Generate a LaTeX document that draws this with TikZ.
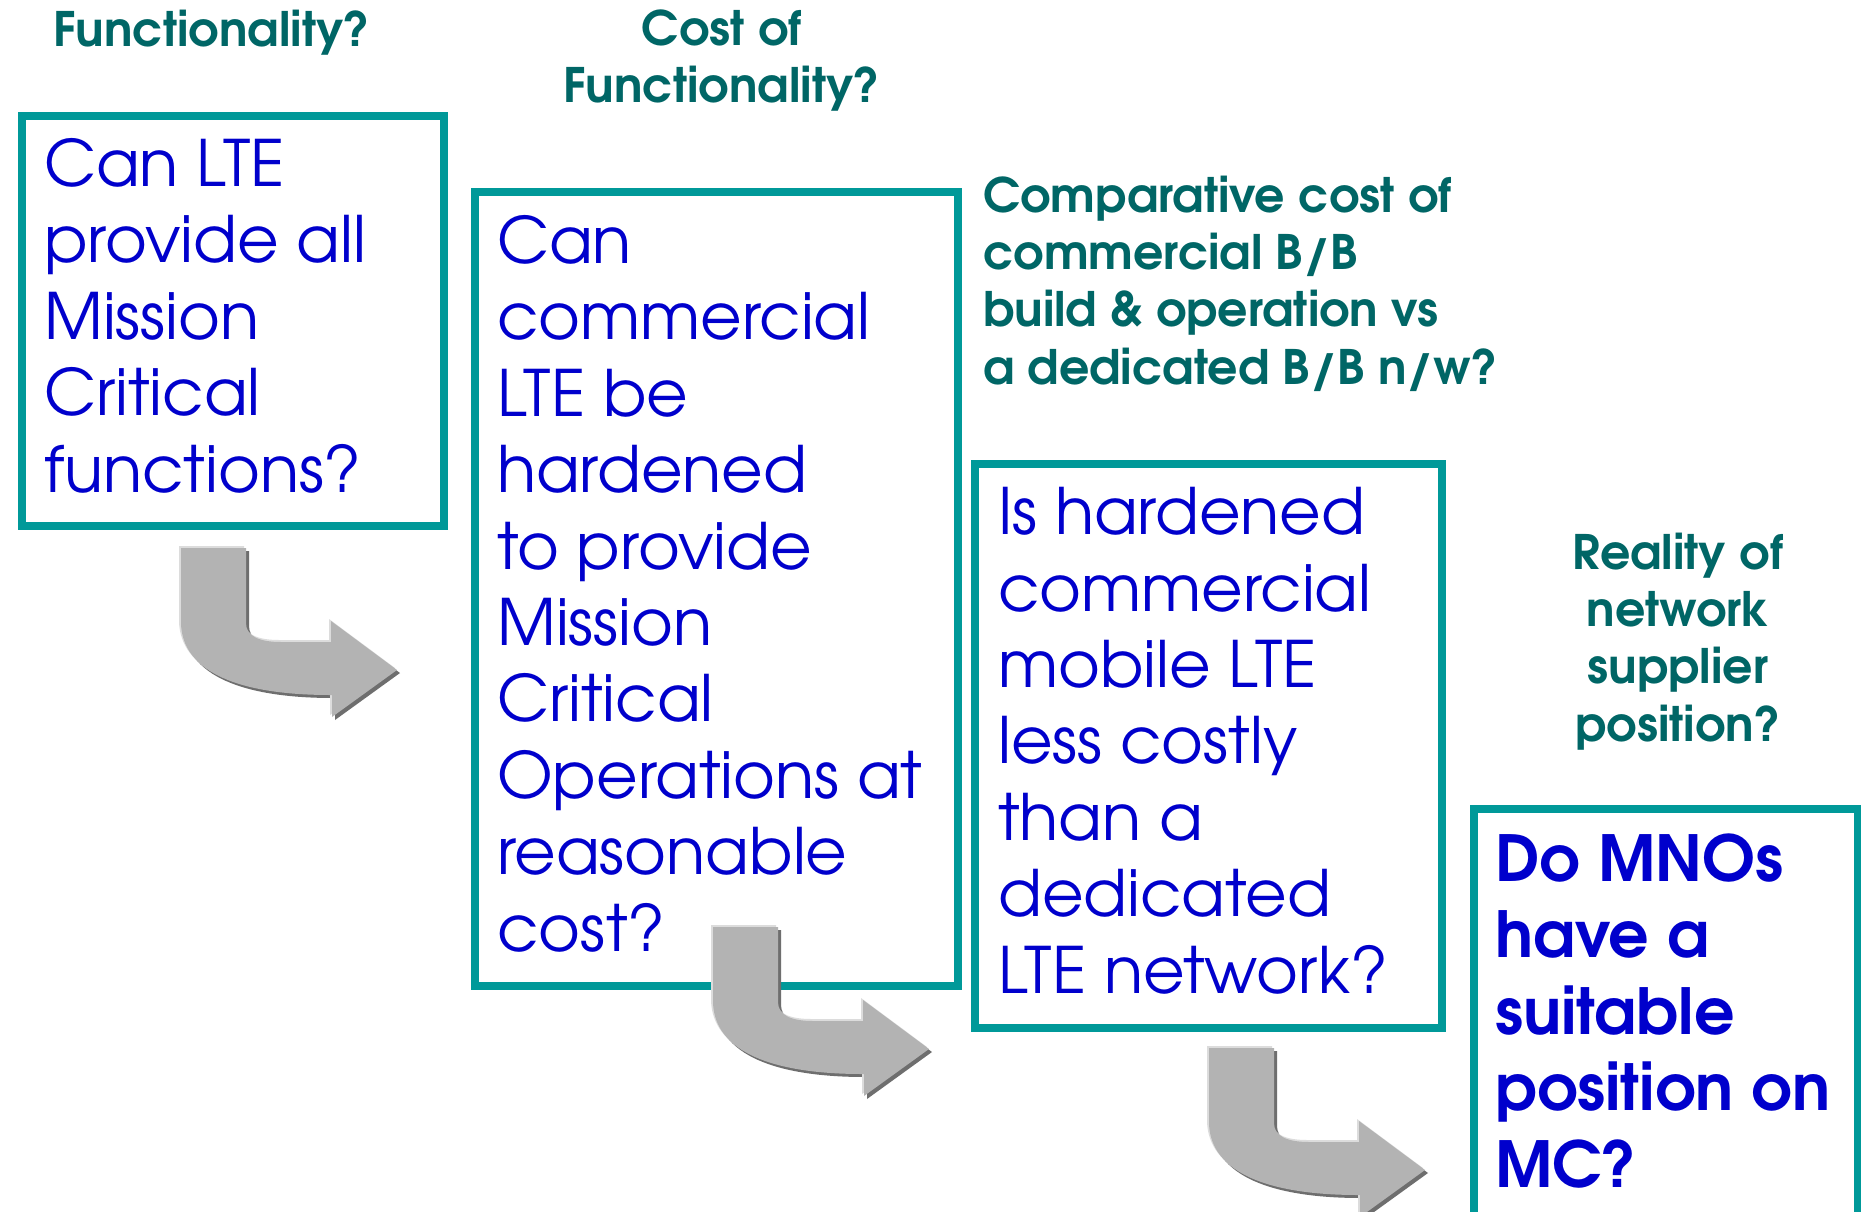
\documentclass[tikz,border=0pt]{standalone}
\usepackage{fontspec}
\setmainfont{TeX Gyre Adventor}
\definecolor{boxteal}{HTML}{009999}
\definecolor{headteal}{HTML}{006666}
\definecolor{bodyblue}{HTML}{0000CC}
\definecolor{arrowgray}{HTML}{B3B3B3}
\definecolor{arrowdark}{HTML}{6E6E6E}
\definecolor{arrowlight}{HTML}{DCDCDC}
\tikzset{
  qframe/.style={draw=boxteal, line width=8pt, anchor=north west, inner sep=0pt},
  % multi-line nodes are placed by the baseline of their last line
  bodytext/.style={text=bodyblue, anchor=base west, align=left, inner sep=0pt,
    font=\fontsize{64}{76.4}\selectfont},
  bodybold/.style={bodytext, font=\fontsize{63.5}{76.4}\selectfont\bfseries},
  headtext/.style={text=headteal, inner sep=0pt,
    font=\fontsize{47.5}{57.3}\selectfont\bfseries},
  bentarrow/.pic={
    \foreach \dx/\dy/\c in {3/3/arrowdark, -2/-2/arrowlight, 0/0/arrowgray}{
      \fill[\c, shift={(\dx,\dy)}] (0,0) -- (65,0) -- (65,75)
        .. controls (65,88) and (78,94) .. (100,94) -- (150,94) -- (150,73)
        -- (216,122) -- (151,169) -- (151,147) -- (149,147)
        .. controls (60,147) and (1,125) .. (0,75) -- cycle;
    }
  }
}
\begin{document}
\begin{tikzpicture}[x=1pt,y=-1pt]
  \useasboundingbox (0,0) rectangle (1861,1212);
  \clip (0,0) rectangle (1861,1212);
  \fill[white] (0,0) rectangle (1861,1212);

  % question frames
  \node[qframe, minimum width=422pt, minimum height=410pt] (box1) at (18,112) {};
  \node[qframe, minimum width=483pt, minimum height=794pt] (box2) at (471,188) {};
  \node[qframe, minimum width=467pt, minimum height=564pt] (box3) at (971,460) {};
  \node[qframe, minimum width=384pt, minimum height=440pt] (box4) at (1470,805) {};

  % headings
  \node[headtext, anchor=base] (h1) at (212,47) {Functionality?};
  \node[headtext, anchor=base, align=center] (h2) at (722,103) {Cost of\\Functionality?};
  \node[headtext, anchor=base west, align=left] (h3) at (983,384)
    {Comparative cost of\\commercial B/B\\build \& operation vs\\a dedicated B/B n/w?};
  \node[headtext, anchor=base, align=center] (h4) at (1678,741)
    {Reality of\\network\\supplier\\position?};

  % questions
  \node[bodytext] (q1) at (44,492)
    {Can LTE\\provide all\\Mission\\Critical\\functions?};
  \node[bodytext] (q2) at (497,951)
    {Can\\commercial\\LTE be\\hardened\\to provide\\Mission\\Critical\\Operations at\\reasonable\\cost?};
  \node[bodytext] (q3) at (998,993)
    {Is hardened\\commercial\\mobile LTE\\less costly\\than a\\dedicated\\LTE network?};
  \node[bodybold] (q4) at (1495,1187)
    {Do MNOs\\have a\\suitable\\position on\\MC?};

  % bent arrows between the stages
  \pic (arr1) at (181,548) {bentarrow};
  \pic (arr2) at (713,927) {bentarrow};
  \pic (arr3) at (1209,1048) {bentarrow};
\end{tikzpicture}
\end{document}
